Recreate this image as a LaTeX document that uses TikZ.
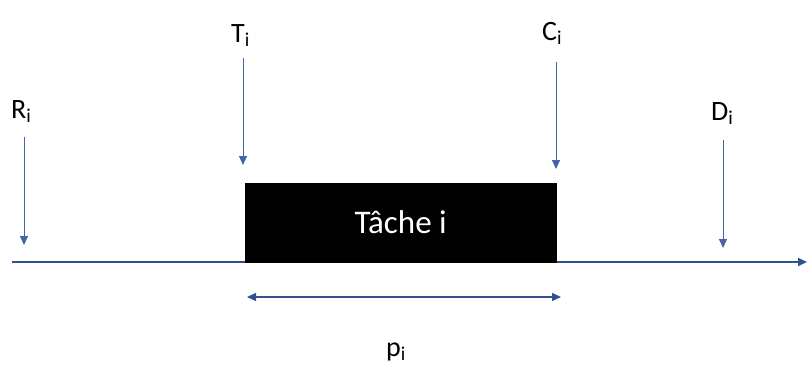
\documentclass[tikz,border=0pt]{standalone}
\usepackage{fontspec}
\setmainfont{Carlito}
\usetikzlibrary{arrows.meta}
\definecolor{navy}{RGB}{47,82,143}
\definecolor{lineblue}{RGB}{68,100,170}
\begin{document}
\begin{tikzpicture}[x=1pt,y=-1pt,
  tip/.style={-{Triangle[width=8pt,length=9pt]}},
  evt/.style={draw=lineblue,line width=0.9pt,tip},
  lbl/.style={inner sep=0pt,font=\fontsize{28}{30}\selectfont,text=black},
  axis/.style={draw=navy,line width=1.6pt,tip}]
\useasboundingbox (0,0) rectangle (807,367);
% timeline
\coordinate (tl0) at (12,262);
\coordinate (tl1) at (807,262);
\draw[axis] (tl0) -- (tl1);
% task box
\node[fill=black,draw=black,minimum width=311pt,minimum height=79pt,inner sep=0pt,anchor=south west,
  text=white,font=\fontsize{33}{36}\selectfont] (task) at (245,262) {Tâche i};
% R_i
\node[lbl,anchor=base west] (R) at (11,118) {R\textsubscript{i}};
\coordinate (Rs) at (24,137);
\coordinate (Re) at (24,245);
\draw[evt] (Rs) -- (Re);
% T_i
\node[lbl,anchor=base west] (T) at (231,42) {T\textsubscript{i}};
\coordinate (Ts) at (243,58);
\coordinate (Te) at (243,165);
\draw[evt] (Ts) -- (Te);
% C_i
\node[lbl,anchor=base west] (C) at (542,40) {C\textsubscript{i}};
\coordinate (Cs) at (556,62);
\coordinate (Ce) at (556,169);
\draw[evt] (Cs) -- (Ce);
% D_i
\node[lbl,anchor=base west] (D) at (711,120) {D\textsubscript{i}};
\coordinate (Ds) at (723,140);
\coordinate (De) at (723,248);
\draw[evt] (Ds) -- (De);
% p_i
\coordinate (p0) at (247,297);
\coordinate (p1) at (561,297);
\draw[draw=navy,line width=1.2pt,{Triangle[width=8pt,length=9pt]}-{Triangle[width=8pt,length=9pt]}] (p0) -- (p1);
\node[lbl,anchor=base west] (P) at (386,356) {p\textsubscript{i}};
\end{tikzpicture}
\end{document}
